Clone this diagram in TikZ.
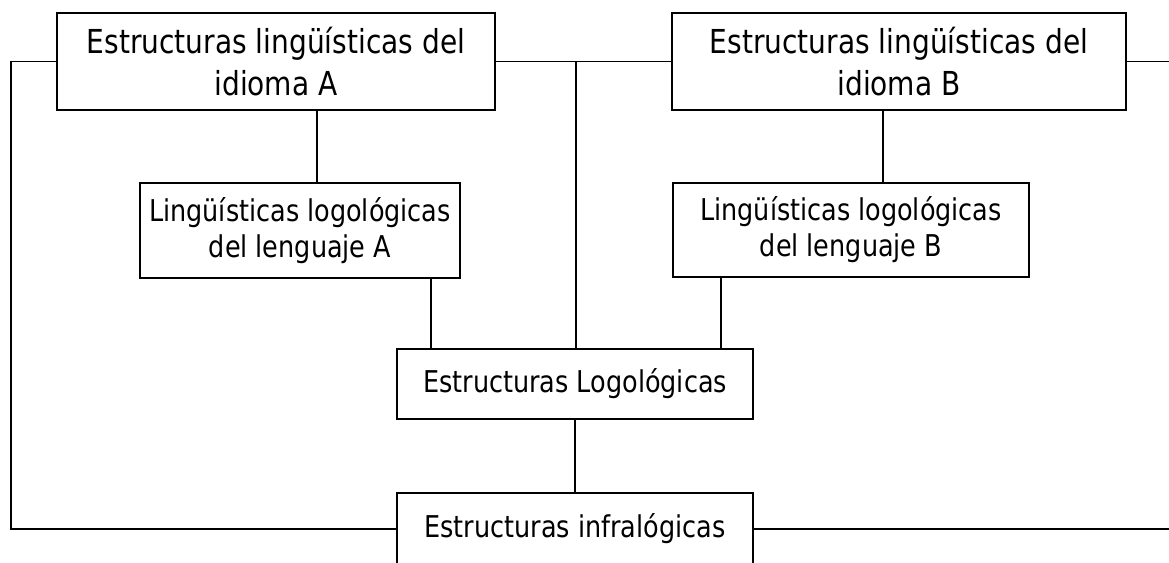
\documentclass[tikz,border=0pt]{standalone}
\usepackage{fontspec}
\setmainfont{DejaVu Sans}[FakeStretch=0.85]
\begin{document}
\begin{tikzpicture}[x=1pt,y=-1pt,
  box/.style={draw, line width=1.6pt, inner sep=0pt, align=center},
  bigtxt/.style={font=\fontsize{33}{42}\selectfont},
  smalltxt/.style={font=\fontsize{30}{36}\selectfont},
  link/.style={line width=1.3pt}]
\useasboundingbox (0,0) rectangle (1169,562);
\begin{scope}
\clip (0,0) rectangle (1169,562);
\node[box,bigtxt,minimum width=438pt,minimum height=97pt] (A) at (276,61.5) {Estructuras lingüísticas del\\idioma A};
\node[box,bigtxt,minimum width=454pt,minimum height=97pt] (B) at (899,61.5) {Estructuras lingüísticas del\\idioma B};
\node[box,smalltxt,minimum width=320pt,minimum height=95pt] (LA) at (300,230.5) {Lingüísticas logológicas\\del lenguaje A};
\node[box,smalltxt,minimum width=356pt,minimum height=94pt] (LB) at (851,230) {Lingüísticas logológicas\\del lenguaje B};
\node[box,smalltxt,minimum width=356pt,minimum height=70pt] (EL) at (575,384) {Estructuras Logológicas};
\node[box,smalltxt,minimum width=356pt,minimum height=72pt] (EI) at (575,529) {Estructuras infralógicas};

\coordinate (xa) at (317,0);
\coordinate (xla) at (431,0);
\coordinate (xb) at (883,0);
\coordinate (xlb) at (721,0);
\coordinate (ctop) at (576,61.5);
\coordinate (lt) at (11,61.5);
\coordinate (lb) at (11,529);
\coordinate (rt) at (1169,61.5);
\coordinate (rb) at (1169,529);

\draw[link] (A.east) -- (B.west);
\draw[link] (B.east) -- (rt);
\draw[link] (A.west) -- (lt) -- (lb) -- (EI.west);
\draw[link] (EI.east) -- (rb);
\draw[link] (ctop) -- (EL.north -| ctop);
\draw[link] (A.south -| xa) -- (LA.north -| xa);
\draw[link] (B.south -| xb) -- (LB.north -| xb);
\draw[link] (LA.south -| xla) -- (EL.north -| xla);
\draw[link] (LB.south -| xlb) -- (EL.north -| xlb);
\draw[link] (EL.south) -- (EI.north);
\end{scope}
\end{tikzpicture}
\end{document}
